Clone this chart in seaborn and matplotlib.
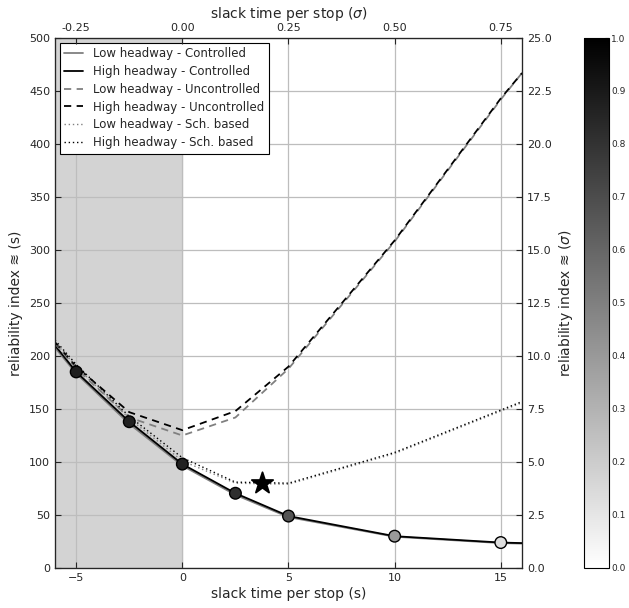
import numpy as np
import pandas as pd
import matplotlib
matplotlib.use('Agg')
import matplotlib.pyplot as plt
import seaborn as sns
from matplotlib.ticker import FormatStrFormatter, MultipleLocator

# slack time per stop (s)
slack = [-6, -5, -2.5, 0, 2.5, 5, 10, 15, 16]

# reliability index (s)
low_ctrl = [208, 183.5, 136, 96.5, 69, 48, 29.5, 23.5, 23]
high_ctrl = [210, 185, 138, 98, 70.5, 49, 30, 24, 23.5]
low_unctrl = [212, 188, 142, 125, 142, 188, 308, 442, 467]
high_unctrl = [213, 190, 147, 130, 148, 190, 309, 443, 467]
low_sch = [213, 190, 141, 101, 80, 79, 108, 148, 156]
high_sch = [215, 192, 143, 104, 81, 80, 109, 149, 157]

# markers on the controlled line, colour = value on the colorbar
mark_x = [-5, -2.5, 0, 2.5, 5, 10, 15]
mark_y = [185, 138, 98, 70.5, 49, 30, 24]
mark_c = [0.88, 0.87, 0.87, 0.82, 0.67, 0.4, 0.13]

star_x = [3.75]
star_y = [80]

sns.set_style('white')
plt.rcParams['font.family'] = ['DejaVu Sans']

fig = plt.figure(figsize=(6.29, 6.08), dpi=100)
ax = fig.add_axes([0.0874, 0.0658, 0.7425, 0.8717])

ax.axvspan(-6, 0, color='lightgray', zorder=0)

series = [
    (low_ctrl, '0.5', '-', 1.3, 'Low headway - Controlled'),
    (high_ctrl, 'black', '-', 1.3, 'High headway - Controlled'),
    (low_unctrl, '0.5', (0, (4, 3)), 1.3, 'Low headway - Uncontrolled'),
    (high_unctrl, 'black', (0, (4, 3)), 1.3, 'High headway - Uncontrolled'),
    (low_sch, '0.5', (0, (1, 2)), 1.0, 'Low headway - Sch. based'),
    (high_sch, 'black', (0, (1, 2)), 1.0, 'High headway - Sch. based'),
]
for vals, col, ls, lw, lab in series:
    sns.lineplot(x=slack, y=vals, ax=ax, color=col, linestyle=ls, linewidth=lw,
                 label=lab, zorder=3)

sns.scatterplot(x=mark_x, y=mark_y, hue=mark_c, palette='gray_r', hue_norm=(0, 1),
                s=70, edgecolor='black', linewidth=1, legend=False, ax=ax, zorder=5)
sns.scatterplot(x=star_x, y=star_y, marker='*', s=260, color='black',
                edgecolor='black', legend=False, ax=ax, zorder=6)

ax.set_xlim(-6, 16)
ax.set_ylim(0, 500)
ax.xaxis.set_major_locator(MultipleLocator(5))
ax.yaxis.set_major_locator(MultipleLocator(50))
ax.grid(True, color='#bdbdbd', linewidth=0.9)
ax.set_axisbelow(True)
ax.set_xlabel('slack time per stop (s)', fontsize=10, labelpad=3)
ax.set_ylabel('reliability index ≋ (s)', fontsize=10)
ax.tick_params(direction='in', labelsize=8, length=4)
for sp in ax.spines.values():
    sp.set_color('black')

leg = ax.legend(loc='upper left', fontsize=8.5, frameon=True, fancybox=False,
                framealpha=1, edgecolor='black', borderaxespad=0.4,
                handlelength=1.6, labelspacing=0.4)
leg.get_frame().set_linewidth(0.8)

# top axis in sigma units
axt = ax.twiny()
axt.set_xlim(-6 / 20, 16 / 20)
axt.set_xticks([-0.25, 0, 0.25, 0.5, 0.75])
axt.xaxis.set_major_formatter(FormatStrFormatter('%.2f'))
axt.set_xlabel('slack time per stop ($\\sigma$)', fontsize=10)
axt.tick_params(direction='in', labelsize=8, length=4)

# right axis in sigma units
axr = ax.twinx()
axr.set_ylim(0, 25)
axr.yaxis.set_major_locator(MultipleLocator(2.5))
axr.yaxis.set_major_formatter(FormatStrFormatter('%.1f'))
axr.set_ylabel('reliability index ≋ ($\\sigma$)', fontsize=10)
axr.tick_params(direction='in', labelsize=8, length=4)

# colorbar
cax = fig.add_axes([0.928, 0.0658, 0.040, 0.8717])
sm = plt.cm.ScalarMappable(cmap='gray_r', norm=plt.Normalize(0, 1))
cb = fig.colorbar(sm, cax=cax, ticks=np.arange(0, 1.01, 0.1))
cb.ax.yaxis.set_major_formatter(FormatStrFormatter('%.1f'))
cb.ax.tick_params(labelsize=6.5, direction='in', length=3, pad=1.5)
cb.outline.set_edgecolor('black')

fig.savefig('out.png', dpi=100)
